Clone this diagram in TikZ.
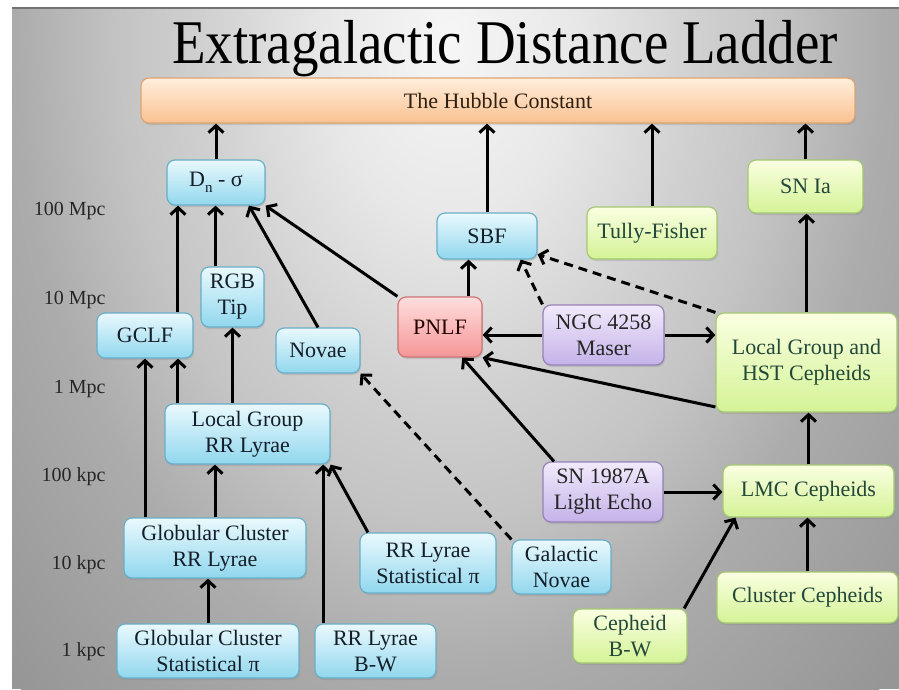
\documentclass[tikz,border=0pt]{standalone}
\usepackage{fontspec}
\setmainfont{Liberation Serif}
\usepackage{graphicx}
\usepackage{tikz}
\usetikzlibrary{arrows.meta,positioning,calc,shadows}
\definecolor{bg0}{RGB}{246,246,246}
\definecolor{bg1}{RGB}{232,232,232}
\definecolor{bg2}{RGB}{208,208,208}
\definecolor{bg3}{RGB}{196,196,196}
\definecolor{bg4}{RGB}{172,172,172}
\definecolor{bgout}{RGB}{150,150,150}
\definecolor{cyantop}{RGB}{234,249,253}
\definecolor{cyanbot}{RGB}{145,215,238}
\definecolor{cyanedge}{RGB}{105,175,200}
\definecolor{greentop}{RGB}{250,255,225}
\definecolor{greenbot}{RGB}{212,243,150}
\definecolor{greenedge}{RGB}{165,200,115}
\definecolor{purptop}{RGB}{242,234,252}
\definecolor{purpbot}{RGB}{196,178,232}
\definecolor{purpedge}{RGB}{150,130,185}
\definecolor{redtop}{RGB}{255,222,222}
\definecolor{redbot}{RGB}{245,150,150}
\definecolor{rededge}{RGB}{205,115,115}
\definecolor{orangetop}{RGB}{255,238,220}
\definecolor{orangebot}{RGB}{250,193,145}
\definecolor{orangeedge}{RGB}{222,165,115}
\definecolor{cyantext}{RGB}{20,30,40}
\definecolor{greentext}{RGB}{35,72,58}
\pgfdeclareradialshading{slidebg}{\pgfpoint{0bp}{0bp}}{color(0bp)=(bg0); color(5bp)=(bg1); color(10bp)=(bg2); color(13.25bp)=(bg3); color(17.5bp)=(bg4); color(25bp)=(bgout); color(50bp)=(bgout)}

\begin{document}
\begin{tikzpicture}[x=1pt, y=-1pt,
    font=\fontsize{22}{26}\selectfont,
    box/.style={rounded corners=8pt, line width=1.2pt, align=center, inner sep=0pt,
        drop shadow={opacity=0.25, shadow xshift=1pt, shadow yshift=-2pt}},
    boxsize/.style 2 args={minimum width=#1pt, minimum height=#2pt},
    cyanbox/.style={box, draw=cyanedge, top color=cyantop, bottom color=cyanbot, text=cyantext},
    greenbox/.style={box, draw=greenedge, top color=greentop, bottom color=greenbot, text=greentext},
    purplebox/.style={box, draw=purpedge, top color=purptop, bottom color=purpbot, text=black!85},
    redbox/.style={box, draw=rededge, top color=redtop, bottom color=redbot, text=black!85!red},
    arr/.style={-{Straight Barb[length=7pt, width=15pt]}, line width=3pt},
    darr/.style={arr, dash pattern=on 9pt off 6pt}]
    \useasboundingbox (0,0) rectangle (899,689);

    % Slide background
    \fill[white] (0,0) rectangle (899,689);
    \begin{scope}
        \clip (12,7) rectangle (899,689);
        \fill[bgout] (12,7) rectangle (899,689);
        \shade[shading=slidebg] (450,40) ellipse [x radius=620, y radius=900];
        \draw[black!55, line width=2pt] (12,8) -- (899,8);
    \end{scope}

    % Title
    \node[font=\fontsize{55}{60}\selectfont, anchor=base] (title) at (505,63)
        {\scalebox{1}[1.13]{Extragalactic Distance Ladder}};

    % Distance scale
    \foreach \y/\label in {211/100 Mpc, 300/10 Mpc, 389/1 Mpc, 477/100 kpc, 565/10 kpc, 652/1 kpc} {
        \node[anchor=east, font=\fontsize{20}{24}\selectfont, text=black!85] (dist\y) at (109,\y) {\label};
    }

    % Hubble constant
    \node[box, draw=orangeedge, top color=orangetop, bottom color=orangebot, text=black!75!brown,
        boxsize={714}{45}] (hubble) at (498,100.5) {The Hubble Constant};

    % Boxes
    \node[cyanbox, boxsize={98}{45}] (dnsigma) at (216,182.5)
        {D\raisebox{-0.55ex}{\fontsize{15}{15}\selectfont n} - σ};
    \node[cyanbox, boxsize={100}{46}] (sbf) at (487,236) {SBF};
    \node[greenbox, boxsize={130}{52}] (tully) at (652,233) {Tully-Fisher};
    \node[greenbox, boxsize={115}{53}] (snia) at (805.5,186.5) {SN Ia};
    \node[cyanbox, boxsize={63}{60}] (rgbtip) at (232.5,297) {RGB\\Tip};
    \node[cyanbox, boxsize={96}{45}] (gclf) at (145,335.5) {GCLF};
    \node[cyanbox, boxsize={84}{45}] (novae) at (318,350.5) {Novae};
    \node[redbox, boxsize={84}{60}] (pnlf) at (440,327) {PNLF};
    \node[purplebox, boxsize={121}{60}] (maser) at (603.5,335) {NGC 4258\\Maser};
    \node[greenbox, boxsize={181}{99}] (lghst) at (806.5,362.5) {Local Group and\\HST Cepheids};
    \node[cyanbox, boxsize={165}{60}] (lgrr) at (247.5,434) {Local Group\\RR Lyrae};
    \node[purplebox, boxsize={120}{60}] (sn87) at (603,492) {SN 1987A\\Light Echo};
    \node[greenbox, boxsize={171}{52}] (lmc) at (808.5,491) {LMC Cepheids};
    \node[cyanbox, boxsize={182}{60}] (gcrr) at (215,548) {Globular Cluster\\RR Lyrae};
    \node[cyanbox, boxsize={136}{60}] (rrstat) at (428,563) {RR Lyrae\\Statistical π};
    \node[cyanbox, boxsize={99}{54}] (galnov) at (561.5,567) {Galactic\\Novae};
    \node[greenbox, boxsize={181}{51}] (clceph) at (807.5,597.5) {Cluster Cepheids};
    \node[greenbox, boxsize={114}{54}] (cephbw) at (630,636) {Cepheid\\B-W};
    \node[cyanbox, boxsize={182}{54}] (gcstat) at (208,651) {Globular Cluster\\Statistical π};
    \node[cyanbox, boxsize={121}{54}] (rrbw) at (375.5,651) {RR Lyrae\\B-W};

    % Into the Hubble constant
    \draw[arr] (dnsigma.north) -- (dnsigma.north |- hubble.south);
    \draw[arr] (sbf.north) -- (sbf.north |- hubble.south);
    \draw[arr] (tully.north) -- (tully.north |- hubble.south);
    \draw[arr] (snia.north) -- (snia.north |- hubble.south);

    % Left branch
    \draw[arr] (gclf.35) -- (gclf.35 |- dnsigma.south);
    \draw[arr] (rgbtip.119) -- (rgbtip.119 |- dnsigma.south);
    \draw[arr] (novae.north) -- (dnsigma.-35);
    \draw[arr] (pnlf.north west) -- (dnsigma.south east);
    \draw[arr] (gcrr.north -| gclf.south) -- (gclf.south);
    \draw[arr] (lgrr.north -| gclf.-35) -- (gclf.-35);
    \draw[arr] (lgrr.north -| rgbtip.south) -- (rgbtip.south);
    \draw[arr] (gcrr.north) -- (gcrr.north |- lgrr.south);
    \draw[arr] (gcstat.north) -- (gcstat.north |- gcrr.south);
    \draw[arr] (rrbw.north -| lgrr.-22) -- (lgrr.-22);
    \draw[arr] (rrstat.153) -- (lgrr.south east);
    \draw[darr] (galnov.north west) -- (novae.south east);

    % Middle
    \draw[arr] (pnlf.47) -- (pnlf.47 |- sbf.south);
    \draw[arr] (maser.west) -- (maser.west -| pnlf.east);
    \draw[arr] (maser.east) -- (maser.east -| lghst.west);
    \draw[darr] (maser.north west) -- (sbf.-35);
    \draw[darr] (lghst.north west) -- (sbf.-20);
    \draw[arr] (lghst.206) -- (pnlf.south east);
    \draw[arr] (sn87.148) -- (pnlf.-54);
    \draw[arr] (sn87.east) -- (sn87.east -| lmc.west);

    % Cepheids
    \draw[arr] (lmc.north) -- (lmc.north |- lghst.south);
    \draw[arr] (lghst.north) -- (lghst.north |- snia.south);
    \draw[arr] (clceph.north) -- (clceph.north |- lmc.south);
    \draw[arr] (cephbw.27) -- (lmc.200);
\end{tikzpicture}
\end{document}
